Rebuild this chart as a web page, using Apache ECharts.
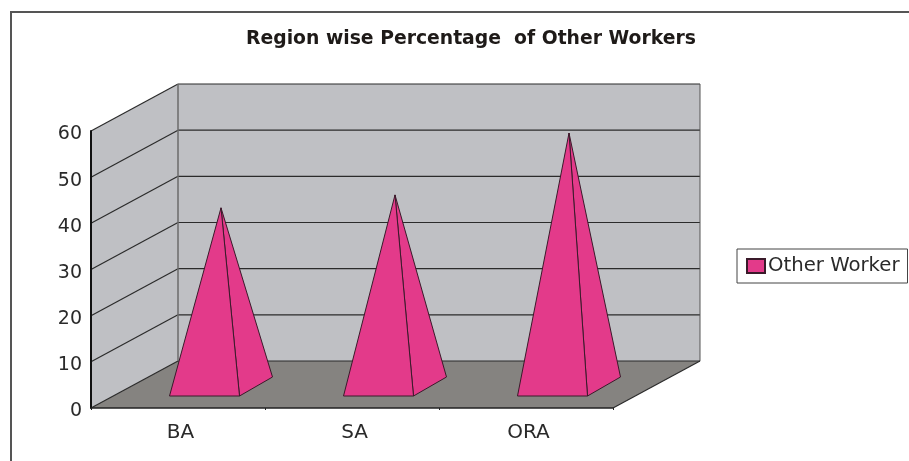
<!DOCTYPE html>
<html><head><meta charset="utf-8">
<style>html,body{margin:0;padding:0;background:#fff}#c{width:909px;height:461px}</style>
<script src="https://cdn.jsdelivr.net/npm/echarts@6/dist/echarts.min.js"></script>
</head><body><div id="c"></div>
<script>
const titleText = 'Region wise Percentage  of Other Workers';
const seriesName = 'Other Worker';
const categories = ['BA', 'SA', 'ORA'];
const otherWorkers = [38.7, 41.5, 54.9];
const yTicks = [0, 10, 20, 30, 40, 50, 60];

const DEPTH_X = 87, DEPTH_Y = 47;
const WALL = '#BFC0C4', FLOOR = '#858380', LINE = '#2b2b2b', PINK = '#E33A8A';
const FONT = '"DejaVu Sans", sans-serif';

const chart = echarts.init(document.getElementById('c'), null, {renderer: 'canvas'});

function renderFrame(params, api) {
  const s = params.coordSys;
  const L = s.x, R = s.x + s.width, T = s.y, B = s.y + s.height;
  const bk = p => [p[0] + DEPTH_X, p[1] - DEPTH_Y];
  const poly = (pts, fill, stroke, lw) => ({
    type: 'polygon', shape: {points: pts},
    style: {fill: fill, stroke: stroke || null, lineWidth: lw || 0}
  });
  const line = (a, b, c, w) => ({
    type: 'line', shape: {x1: a[0], y1: a[1], x2: b[0], y2: b[1]},
    style: {stroke: c, lineWidth: w, fill: null}
  });
  const kids = [
    poly([[L, T], bk([L, T]), bk([L, B]), [L, B]], WALL),
    poly([bk([L, T]), bk([R, T]), bk([R, B]), bk([L, B])], WALL),
    poly([[L, B], [R, B], bk([R, B]), bk([L, B])], FLOOR)
  ];
  yTicks.forEach(v => {
    const y = api.coord([0, v])[1];
    const a = [L, y];
    kids.push(line(a, bk(a), LINE, 1.2));
    kids.push(line(bk(a), bk([R, y]), LINE, 1.2));
  });
  kids.push(line(bk([L, T]), bk([L, B]), '#6b6b6b', 1.5));
  kids.push(line(bk([R, T]), bk([R, B]), '#555', 1));
  kids.push(line([R, B], bk([R, B]), LINE, 1.2));
  return {type: 'group', children: kids};
}

function renderPyramid(params, api) {
  const c = api.coord([api.value(0), 0]);
  const top = api.coord([api.value(0), api.value(1)]);
  const hw = 35;
  const bx = c[0] + 26.5, by = c[1] - 12;
  const FL = [bx - hw, by], FR = [bx + hw, by], BR = [FR[0] + 33, by - 19];
  const apex = [c[0] + 43, top[1] - 21.5];
  const st = {fill: PINK, stroke: '#3a1a2a', lineWidth: 1, lineJoin: 'round'};
  return {type: 'group', children: [
    {type: 'polygon', shape: {points: [FR, BR, apex]}, style: st},
    {type: 'polygon', shape: {points: [FL, FR, apex]}, style: st}
  ]};
}

chart.setOption({
  animation: false,
  backgroundColor: '#fff',
  title: {
    text: titleText, left: 241, top: 25,
    textStyle: {fontFamily: FONT, fontWeight: 'bold', fontSize: 18.8, color: '#1e1a18'}
  },
  legend: {
    data: [seriesName], left: 737, top: 249,
    padding: [7, 8, 7, 9], itemWidth: 18, itemHeight: 14, itemGap: 0,
    icon: 'rect', borderColor: '#444', borderWidth: 1, backgroundColor: '#fff',
    textStyle: {fontFamily: FONT, fontSize: 19.7, color: '#2a2a2a', padding: [0, 0, 0, -2]}
  },
  grid: {left: 91, right: 296, top: 131, bottom: 53, containLabel: false},
  xAxis: {
    type: 'category', data: categories, z: 5,
    axisLine: {lineStyle: {color: '#222', width: 1.5}},
    axisTick: {show: true, length: 2, alignWithLabel: false, lineStyle: {color: '#222'}},
    axisLabel: {fontFamily: FONT, fontSize: 20, color: '#2a2a2a', margin: 15, padding: [0, 0, 0, 5]}
  },
  yAxis: {
    type: 'value', min: 0, max: 60, interval: 10, z: 5,
    axisLine: {show: true, lineStyle: {color: '#111', width: 2}},
    axisTick: {show: false}, splitLine: {show: false},
    axisLabel: {fontFamily: FONT, fontSize: 19, color: '#2a2a2a', margin: 9, verticalAlign: 'top', lineHeight: 7}
  },
  graphic: [
    {type: 'polyline', silent: true, z: 10,
     shape: {points: [[11, 461], [11, 12], [909, 12]]},
     style: {stroke: '#555', lineWidth: 2, fill: null}}
  ],
  series: [
    {type: 'custom', name: 'frame', z: 1, silent: true, clip: false,
     renderItem: renderFrame, data: [[0, 0]], encode: {x: 0, y: 1}},
    {type: 'custom', name: seriesName, z: 6, clip: false,
     itemStyle: {color: PINK, borderColor: '#3a1a2a', borderWidth: 1},
     renderItem: renderPyramid,
     data: categories.map((c, i) => [i, otherWorkers[i]]), encode: {x: 0, y: 1}}
  ]
});
</script></body></html>
